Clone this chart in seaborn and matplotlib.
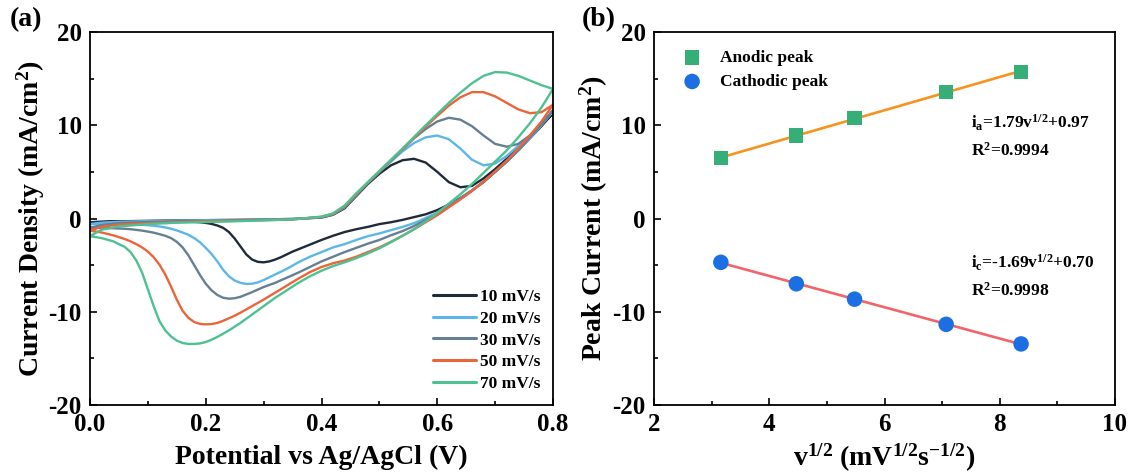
import numpy as np
import pandas as pd
import matplotlib
matplotlib.use("Agg")
import matplotlib.pyplot as plt
from matplotlib.ticker import AutoMinorLocator, FormatStrFormatter
import seaborn as sns

# ---------------- data ----------------
scan_rates = ["10 mV/s", "20 mV/s", "30 mV/s", "50 mV/s", "70 mV/s"]
line_colors = ["#1f2b38", "#5db6ea", "#657f95", "#ea6539", "#4cc192"]

# forward (anodic) sweep potentials, V
potential_fwd = [0.00, 0.02, 0.05, 0.10, 0.15, 0.20, 0.25, 0.30, 0.35, 0.40,
                 0.42, 0.44, 0.46, 0.48, 0.50, 0.52, 0.54, 0.56, 0.58, 0.60,
                 0.62, 0.64, 0.66, 0.68, 0.70, 0.72, 0.74, 0.76, 0.78, 0.80]
# reverse (cathodic) sweep potentials, V
potential_rev = [0.80, 0.78, 0.76, 0.74, 0.72, 0.70, 0.68, 0.66, 0.64, 0.62,
                 0.60, 0.58, 0.56, 0.54, 0.52, 0.50, 0.48, 0.46, 0.44, 0.42,
                 0.40, 0.38, 0.36,
                 0.35, 0.34, 0.33, 0.32, 0.31, 0.30, 0.29, 0.28, 0.27, 0.26,
                 0.25, 0.24, 0.23, 0.22, 0.21, 0.20, 0.19, 0.18, 0.17, 0.16,
                 0.15, 0.14, 0.13, 0.12, 0.11, 0.10, 0.09, 0.08, 0.07, 0.06,
                 0.04, 0.02, 0.00]

current_fwd_10 = [-0.40, -0.35, -0.30, -0.25, -0.20, -0.18, -0.15, -0.10, -0.05, 0.10,
                  0.40, 1.10, 2.40, 3.70, 4.80, 5.70, 6.25, 6.40, 6.00, 5.00,
                  3.90, 3.35, 3.50, 4.30, 5.30, 6.40, 7.60, 8.80, 10.0, 11.3]
current_rev_10 = [11.3, 9.9, 8.6, 7.3, 6.1, 5.0, 3.9, 3.0, 2.2, 1.5,
                  0.9, 0.45, 0.15, -0.15, -0.40, -0.60, -0.90, -1.15, -1.45, -1.85,
                  -2.30, -2.80, -3.30,
                  -3.55, -3.85, -4.15, -4.40, -4.60, -4.70, -4.65, -4.40, -3.85, -3.00,
                  -2.15, -1.45, -1.00, -0.75, -0.58, -0.47, -0.40, -0.36, -0.34, -0.32,
                  -0.31, -0.30, -0.30, -0.30, -0.30, -0.30, -0.31, -0.32, -0.32, -0.33,
                  -0.35, -0.38, -0.40]

current_fwd_20 = [-0.60, -0.45, -0.35, -0.28, -0.22, -0.18, -0.15, -0.10, -0.05, 0.12,
                  0.45, 1.20, 2.50, 3.80, 5.00, 6.10, 7.20, 8.10, 8.70, 8.90,
                  8.50, 7.50, 6.30, 5.70, 5.90, 6.70, 7.80, 8.90, 10.2, 11.5]
current_rev_20 = [11.5, 10.0, 8.6, 7.3, 6.1, 5.0, 3.95, 3.0, 2.15, 1.4,
                  0.65, 0.05, -0.50, -0.90, -1.25, -1.60, -1.90, -2.30, -2.75, -3.10,
                  -3.60, -4.10, -4.70,
                  -5.05, -5.40, -5.70, -6.00, -6.30, -6.60, -6.85, -7.00, -7.02, -6.90,
                  -6.65, -6.20, -5.50, -4.60, -3.80, -3.15, -2.55, -2.10, -1.75, -1.50,
                  -1.28, -1.10, -0.96, -0.85, -0.78, -0.72, -0.68, -0.66, -0.64, -0.63,
                  -0.61, -0.60, -0.60]

current_fwd_30 = [-1.00, -0.70, -0.50, -0.38, -0.30, -0.25, -0.20, -0.15, -0.08, 0.15,
                  0.48, 1.25, 2.55, 3.80, 5.00, 6.20, 7.40, 8.60, 9.60, 10.4,
                  10.8, 10.6, 9.90, 8.90, 8.00, 7.70, 8.00, 8.90, 10.1, 11.6]
current_rev_30 = [11.6, 10.1, 8.7, 7.35, 6.1, 5.0, 3.95, 3.0, 2.1, 1.3,
                  0.50, -0.15, -0.80, -1.35, -1.80, -2.30, -2.70, -3.15, -3.60, -4.10,
                  -4.60, -5.20, -5.80,
                  -6.08, -6.35, -6.62, -6.90, -7.12, -7.35, -7.62, -7.90, -8.15, -8.40,
                  -8.55, -8.60, -8.50, -8.20, -7.70, -7.00, -6.05, -5.00, -3.95, -3.10,
                  -2.50, -2.10, -1.85, -1.68, -1.52, -1.40, -1.30, -1.22, -1.15, -1.10,
                  -1.05, -1.00, -1.00]

current_fwd_50 = [-1.30, -0.90, -0.65, -0.50, -0.40, -0.30, -0.25, -0.18, -0.10, 0.18,
                  0.50, 1.30, 2.60, 3.85, 5.05, 6.25, 7.45, 8.65, 9.85, 11.0,
                  12.1, 13.0, 13.55, 13.55, 13.1, 12.4, 11.7, 11.3, 11.4, 12.2]
current_rev_50 = [12.2, 10.4, 8.9, 7.5, 6.2, 5.05, 3.95, 2.95, 2.05, 1.2,
                  0.35, -0.40, -1.15, -1.85, -2.50, -3.10, -3.60, -4.10, -4.50, -4.80,
                  -5.20, -5.75, -6.45,
                  -6.82, -7.20, -7.58, -7.95, -8.32, -8.70, -9.05, -9.40, -9.75, -10.10,
                  -10.42, -10.70, -10.97, -11.20, -11.32, -11.35, -11.30, -11.10, -10.65, -9.90,
                  -8.70, -7.30, -6.00, -4.95, -4.15, -3.55, -3.10, -2.75, -2.45, -2.20,
                  -1.80, -1.50, -1.30]

current_fwd_70 = [-1.90, -1.20, -0.85, -0.60, -0.45, -0.38, -0.30, -0.20, -0.10, 0.20,
                  0.55, 1.40, 2.70, 3.90, 5.10, 6.30, 7.50, 8.75, 10.0, 11.2,
                  12.4, 13.5, 14.5, 15.3, 15.7, 15.65, 15.3, 14.8, 14.3, 13.9]
current_rev_70 = [13.9, 11.9, 10.2, 8.7, 7.3, 6.1, 4.9, 3.7, 2.6, 1.6,
                  0.60, -0.30, -1.15, -1.85, -2.55, -3.20, -3.75, -4.25, -4.70, -5.10,
                  -5.60, -6.20, -6.90,
                  -7.30, -7.70, -8.10, -8.50, -8.95, -9.40, -9.85, -10.30, -10.75, -11.20,
                  -11.60, -12.00, -12.35, -12.70, -13.00, -13.25, -13.40, -13.45, -13.45, -13.35,
                  -13.10, -12.65, -12.00, -11.00, -9.40, -7.60, -5.80, -4.50, -3.60, -3.05,
                  -2.45, -2.10, -1.90]

sqrt_scan_rate = [3.16, 4.47, 5.48, 7.07, 8.37]
anodic_peak = [6.45, 8.90, 10.80, 13.55, 15.75]
cathodic_peak = [-4.70, -7.00, -8.65, -11.35, -13.45]

anodic_eq = r"i$_{\mathregular{a}}$=1.79v$^{1/2}$+0.97"
anodic_r2 = r"R$^{2}$=0.9994"
cathodic_eq = r"i$_{\mathregular{c}}$=-1.69v$^{1/2}$+0.70"
cathodic_r2 = r"R$^{2}$=0.9998"

# ---------------- style ----------------
sns.set_theme(style="ticks")
plt.rcParams.update({
    "font.family": ["Liberation Serif", "DejaVu Serif"],
    "font.weight": "bold",
    "axes.labelweight": "bold",
    "mathtext.fontset": "custom",
    "mathtext.rm": "Liberation Serif:bold",
    "mathtext.it": "Liberation Serif:italic:bold",
    "mathtext.bf": "Liberation Serif:bold",
    "mathtext.default": "rm",
    "axes.unicode_minus": False,
    "axes.linewidth": 1.3,
    "axes.edgecolor": "black",
    "xtick.color": "black",
    "ytick.color": "black",
    "text.color": "black",
    "axes.labelcolor": "black",
    "lines.solid_joinstyle": "round",
    "lines.solid_capstyle": "round",
})

fwd = {"10 mV/s": current_fwd_10, "20 mV/s": current_fwd_20, "30 mV/s": current_fwd_30,
       "50 mV/s": current_fwd_50, "70 mV/s": current_fwd_70}
rev = {"10 mV/s": current_rev_10, "20 mV/s": current_rev_20, "30 mV/s": current_rev_30,
       "50 mV/s": current_rev_50, "70 mV/s": current_rev_70}
frames = []
for r in scan_rates:
    frames.append(pd.DataFrame({
        "Potential": potential_fwd + potential_rev,
        "Current": fwd[r] + rev[r],
        "Scan rate": r,
    }))
cv = pd.concat(frames, ignore_index=True)

fig = plt.figure(figsize=(11.32, 4.72), dpi=100)
ax1 = fig.add_axes([90 / 1132, 67 / 472, 463 / 1132, 373 / 472])
ax2 = fig.add_axes([654 / 1132, 67 / 472, 461 / 1132, 373 / 472])

# ---------------- panel (a) ----------------
sns.lineplot(data=cv, x="Potential", y="Current", hue="Scan rate",
             hue_order=scan_rates, palette=dict(zip(scan_rates, line_colors)),
             sort=False, estimator=None, linewidth=1.7, ax=ax1)
old = ax1.get_legend()
handles = old.legend_handles
labels = [t.get_text() for t in old.get_texts()]
old.remove()
for h in handles:
    h.set_linewidth(2.2)
ax1.legend(handles, labels, loc="upper left", bbox_to_anchor=(0.74, 0.312),
           frameon=False, fontsize=12.5, handlelength=2.5, handletextpad=0.25,
           labelspacing=0.33, borderpad=0, borderaxespad=0)

ax1.set_xlim(0, 0.8)
ax1.set_ylim(-20, 20)
ax1.set_xticks([0.0, 0.2, 0.4, 0.6, 0.8])
ax1.set_yticks([-20, -10, 0, 10, 20])
ax1.xaxis.set_major_formatter(FormatStrFormatter("%.1f"))
ax1.set_xlabel("Potential vs Ag/AgCl (V)", fontsize=20, labelpad=6)
ax1.set_ylabel(r"Current Density (mA/cm$^{2}$)", fontsize=20, labelpad=1)

# ---------------- panel (b) ----------------
sns.regplot(x=sqrt_scan_rate, y=anodic_peak, ax=ax2, scatter=False, ci=None,
            color="#f7931e", line_kws={"linewidth": 1.9})
sns.regplot(x=sqrt_scan_rate, y=cathodic_peak, ax=ax2, scatter=False, ci=None,
            color="#f0646a", line_kws={"linewidth": 1.9})
sns.scatterplot(x=sqrt_scan_rate, y=anodic_peak, ax=ax2, marker="s", s=105,
                color="#35ae78", edgecolor="none", label="Anodic peak", zorder=3)
sns.scatterplot(x=sqrt_scan_rate, y=cathodic_peak, ax=ax2, marker="o", s=125,
                color="#1c6fe2", edgecolor="none", label="Cathodic peak", zorder=3)
ax2.legend(loc="upper left", bbox_to_anchor=(0.06, 0.952), frameon=False,
           fontsize=12.5, handlelength=1.2, handletextpad=1.0, labelspacing=0.45,
           borderpad=0, borderaxespad=0)

ax2.text(7.5, 10.3, anodic_eq, fontsize=12.5, va="center", ha="left")
ax2.text(7.5, 7.3, anodic_r2, fontsize=12.5, va="center", ha="left")
ax2.text(7.5, -4.75, cathodic_eq, fontsize=12.5, va="center", ha="left")
ax2.text(7.5, -7.75, cathodic_r2, fontsize=12.5, va="center", ha="left")

ax2.set_xlim(2, 10)
ax2.set_ylim(-20, 20)
ax2.set_xticks([2, 4, 6, 8, 10])
ax2.set_yticks([-20, -10, 0, 10, 20])
ax2.set_xlabel(r"v$^{1/2}$ (mV$^{1/2}$s$^{-1/2}$)", fontsize=20, labelpad=4)
ax2.set_ylabel(r"Peak Current (mA/cm$^{2}$)", fontsize=20, labelpad=2)

for ax in (ax1, ax2):
    ax.xaxis.set_minor_locator(AutoMinorLocator(2))
    ax.yaxis.set_minor_locator(AutoMinorLocator(2))
    ax.tick_params(which="both", direction="in", top=False, right=False,
                   width=1.2, labelsize=18, pad=6)
    ax.tick_params(which="major", length=5)
    ax.tick_params(which="minor", length=3)
    for sp in ax.spines.values():
        sp.set_visible(True)
        sp.set_linewidth(1.3)
    for lab in ax.get_xticklabels() + ax.get_yticklabels():
        lab.set_fontweight("bold")

fig.text(10 / 1132, 1 - 20 / 472, "(a)", fontsize=20, fontweight="bold", va="center", ha="left")
fig.text(582 / 1132, 1 - 20 / 472, "(b)", fontsize=20, fontweight="bold", va="center", ha="left")

fig.savefig("out.png", dpi=100)
